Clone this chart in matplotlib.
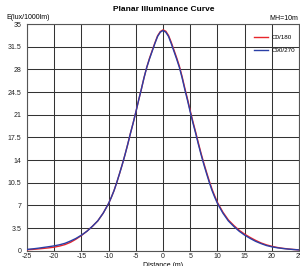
import matplotlib
matplotlib.use("Agg")
import matplotlib.pyplot as plt

plt.rcParams['font.family'] = ['Liberation Sans', 'DejaVu Sans']

# Data
distance = [-25, -24, -23, -22, -21, -20, -19, -18, -17, -16, -15, -14, -13, -12, -11,
            -10, -9.5, -9, -8.5, -8, -7.5, -7, -6.5, -6, -5.5, -5, -4.5, -4, -3.5, -3,
            -2.5, -2, -1.5, -1, -0.5, 0, 0.5, 1, 1.5, 2, 2.5,
            3, 3.5, 4, 4.5, 5, 5.5, 6, 6.5, 7, 7.5, 8, 8.5, 9, 9.5, 10,
            11, 12, 13, 14, 15, 16, 17, 18, 19, 20, 21, 22, 23, 24, 25]
c90_270 = [0.20, 0.28, 0.38, 0.50, 0.62, 0.75, 0.92, 1.15, 1.50, 1.90, 2.40, 3.00, 3.75, 4.60, 5.80,
           7.30, 8.25, 9.30, 10.55, 11.9, 13.3, 14.8, 16.4, 18.1, 19.7, 21.4, 23.2, 24.9, 26.7, 28.3,
           29.6, 30.8, 32.0, 33.1, 33.75, 34.0, 33.75, 33.1, 32.0, 30.8, 29.6,
           28.3, 26.7, 24.9, 23.2, 21.4, 19.7, 18.1, 16.4, 14.8, 13.3, 11.9, 10.55, 9.30, 8.25, 7.30,
           5.80, 4.60, 3.75, 3.00, 2.40, 1.90, 1.45, 1.10, 0.80, 0.60, 0.45, 0.34, 0.25, 0.18, 0.12]
c0_180 = [0.15, 0.20, 0.27, 0.35, 0.44, 0.55, 0.72, 0.95, 1.30, 1.78, 2.35, 3.00, 3.75, 4.60, 5.80,
          7.30, 8.25, 9.30, 10.55, 11.9, 13.3, 14.8, 16.4, 18.1, 19.7, 21.4, 23.2, 24.9, 26.7, 28.3,
          29.7, 30.9, 32.1, 33.2, 33.85, 34.1, 33.9, 33.25, 32.2, 31.0, 29.8,
          28.5, 26.9, 25.1, 23.4, 21.6, 19.9, 18.3, 16.6, 15.0, 13.5, 12.1, 10.75, 9.50, 8.45, 7.45,
          5.95, 4.75, 3.90, 3.15, 2.55, 2.05, 1.60, 1.20, 0.90, 0.68, 0.50, 0.37, 0.27, 0.19, 0.13]
x_ticks = [-25, -20, -15, -10, -5, 0, 5, 10, 15, 20, 25]
x_ticklabels = ["-25", "-20", "-15", "-10", "-5", "0", "5", "10", "15", "20", "25"]
y_ticks = [0, 3.5, 7, 10.5, 14, 17.5, 21, 24.5, 28, 31.5, 35]
y_ticklabels = ["0", "3.5", "7", "10.5", "14", "17.5", "21", "24.5", "28", "31.5", "35"]

fig = plt.figure(figsize=(3.0, 2.66), dpi=100)
ax = fig.add_axes([0.09, 0.0575, 0.907, 0.852])

ax.plot(distance, c0_180, color='#e8262b', lw=1.0, label='C0/180', zorder=3)
ax.plot(distance, c90_270, color='#2a3fa6', lw=1.0, label='C90/270', zorder=4)

ax.set_xlim(-25, 25)
ax.set_ylim(0, 35)
ax.set_xticks(x_ticks)
ax.set_xticklabels(x_ticklabels)
ax.set_yticks(y_ticks)
ax.set_yticklabels(y_ticklabels)
ax.tick_params(axis='both', length=0, labelsize=5, colors='#222222')
ax.tick_params(axis='x', pad=2)
ax.tick_params(axis='y', pad=4)
ax.grid(True, color='#333333', lw=0.75)
for s in ax.spines.values():
    s.set_color('#555555')
    s.set_linewidth(0.8)

ax.set_xlabel('Distance (m)', fontsize=5, labelpad=1)

fig.text(0.545, 0.965, 'Planar Illuminance Curve', ha='center', va='center',
         fontsize=6, fontweight='bold')
fig.text(0.02, 0.935, 'E(lux/1000lm)', ha='left', va='center', fontsize=5)
fig.text(0.995, 0.93, 'MH=10m', ha='right', va='center', fontsize=5)

leg = ax.legend(loc='upper right', bbox_to_anchor=(1.0, 0.97), frameon=False,
                fontsize=4.5, handlelength=2.2, handletextpad=0.6, labelspacing=1.2,
                borderaxespad=0.2)

fig.savefig('out.png', dpi=100)
